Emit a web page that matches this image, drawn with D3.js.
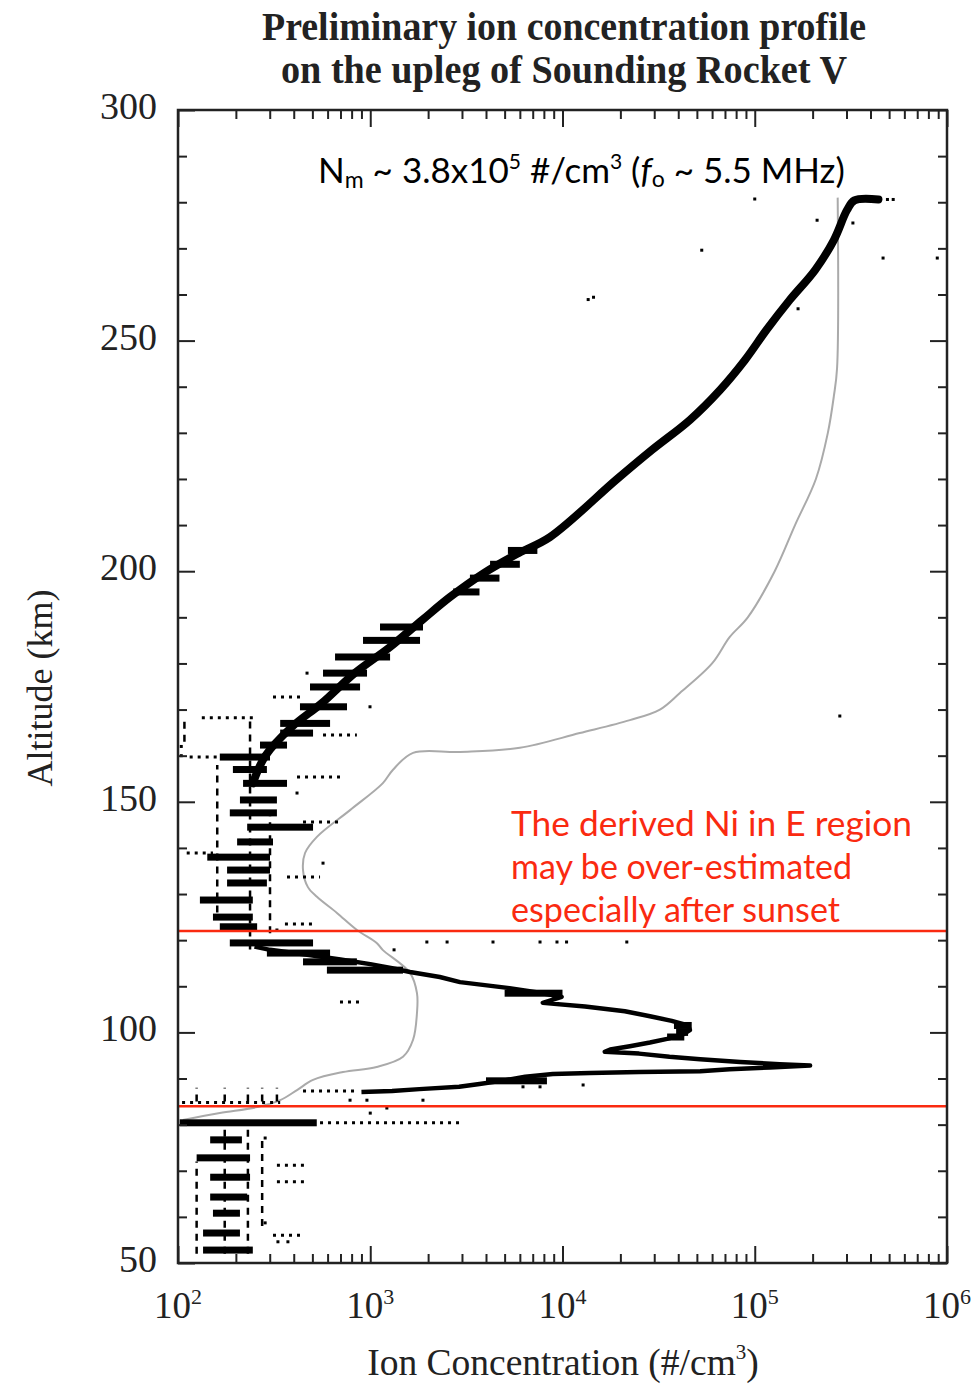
<!DOCTYPE html>
<html>
<head>
<meta charset="utf-8">
<script src="https://cdn.jsdelivr.net/npm/d3@7"></script>
<style>
  body { margin: 0; background: #fff; }
  svg { display: block; }
</style>
</head>
<body>
<div id="chart"></div>
<script>
// [altitude km, ions per cm3]
const fTrace = [
  [280.6, 4.4e5], [280.4, 3.3e5], [278.3, 3.02e5], [271.8, 2.58e5], [265.3, 2.06e5],
  [258.8, 1.52e5], [252.3, 1.15e5], [245.8, 8.9e4], [239.3, 6.6e4], [232.8, 4.6e4],
  [226.3, 2.92e4], [219.8, 1.9e4],
  [207.4, 8.6e3], [203.9, 5.9e3], [199.6, 3.9e3], [194.4, 2.6e3], [189.4, 1.86e3],
  [183.6, 1.27e3], [177.9, 830], [171.4, 560], [166.2, 390], [160.0, 285], [154.0, 245]
];

const eTrace = [
  [118.6, 250], [117.9, 301], [116.8, 480], [115.8, 700], [114.8, 1000], [113.9, 1300],
  [113.1, 1610], [112.0, 2300], [110.9, 2930], [109.6, 5300], [108.6, 7600], [107.7, 9900],
  [106.4, 7900], [105.6, 1.31e4], [104.6, 2.11e4], [103.5, 2.85e4], [102.5, 3.7e4],
  [101.5, 4.5e4], [100.5, 4.6e4], [99.5, 4.2e4], [98.6, 3.5e4], [97.8, 2.85e4],
  [97.0, 2.24e4], [96.3, 1.77e4], [95.8, 1.66e4], [95.4, 2.5e4], [94.7, 3.6e4],
  [94.2, 5.2e4], [93.6, 8.4e4], [93.1, 1.35e5], [92.8, 1.94e5], [92.4, 1.2e5],
  [92.0, 7.4e4], [91.6, 5.2e4], [91.4, 2.5e4], [91.2, 1.39e4], [91.0, 8900],
  [90.4, 6400], [89.6, 5000], [88.8, 3700], [88.2, 2900], [87.7, 1800], [87.3, 1300], [87.1, 900]
];

// smeared samples: [altitude, from, to]
const bars = [
  [204.5, 5200, 7400], [201.5, 4200, 6000], [198.5, 3300, 4700], [195.5, 2700, 3700],
  [187.9, 1124, 1881], [185.0, 917, 1815], [181.4, 656, 1268], [177.9, 568, 962],
  [174.9, 486, 885], [170.6, 431, 757], [167.0, 340, 618], [164.9, 340, 504],
  [162.3, 267, 369], [159.7, 165, 301], [157.0, 193, 290], [154.0, 218, 369],
  [150.4, 210, 327], [147.6, 186, 327], [144.5, 229, 504], [141.3, 203, 312],
  [138.0, 142, 301], [135.2, 180, 301], [132.4, 180, 290], [128.7, 130, 245],
  [125.0, 152, 245], [122.9, 165, 258],
  [119.4, 186, 504], [117.2, 290, 618], [115.3, 447, 852], [113.5, 595, 1480],
  [108.5, 5000, 1.0e4], [101.5, 3.8e4, 4.7e4], [100.0, 3.9e4, 4.5e4], [99.0, 3.5e4, 4.3e4],
  [89.5, 4000, 8300],
  [80.4, 102, 527], [76.7, 147, 215], [72.8, 125, 237], [68.6, 147, 237],
  [64.3, 147, 229], [60.8, 152, 210], [56.5, 135, 210], [52.8, 135, 245]
];

const dashedBars = [
  [168.2, 133, 258], [159.7, 115, 160], [155.4, 416, 696], [145.6, 447, 721],
  [138.9, 111, 152], [133.7, 369, 548], [164.5, 568, 852], [172.7, 312, 447],
  [123.5, 360, 528], [87.3, 447, 850], [84.8, 105, 340], [80.4, 548, 2930],
  [71.2, 327, 468], [67.6, 327, 468], [56.0, 312, 447], [106.6, 696, 885]
];

// quantisation columns: [conc, alt from, alt to]
const columns = [
  [160, 126, 158], [237, 118, 168], [301, 121.5, 148], [108, 163, 168],
  [125, 52, 72], [175, 52, 79], [231, 52, 81], [274, 58, 77],
  [125, 85, 88], [175, 85, 88], [231, 85, 88], [274, 85, 88], [327, 85, 88]
];

const dots = [
  [280.7, 1.0e5], [276.1, 2.11e5], [275.5, 3.24e5], [269.6, 5.3e4], [267.9, 4.65e5],
  [267.9, 8.9e5], [258.9, 1.36e4], [259.4, 1.45e4], [256.9, 1.68e5], [280.6, 4.9e5],
  [280.6, 5.25e5], [168.6, 2.77e5], [162, 104], [160, 104], [177.9, 469], [170.6, 997],
  [151.9, 416], [136.7, 568], [122.2, 327], [119.6, 1970], [119.6, 2510], [119.6, 4350],
  [119.6, 7640], [119.6, 9360], [119.6, 1.05e4], [119.6, 2.16e4], [117.9, 1330],
  [88.6, 1.28e4], [88.2, 7640], [88.2, 6230], [85.3, 785], [85.3, 961], [85.3, 1880],
  [82.5, 1000], [83.6, 1220], [77.1, 284], [58.7, 284], [54.6, 331], [54.6, 373]
];

// grey model profile
const model = [
  [281, 2.7e5], [244, 2.68e5], [238, 2.58e5], [230, 2.4e5], [220, 2.08e5], [210, 1.62e5],
  [200, 1.27e5], [190, 9.2e4], [185.7, 7.4e4], [180, 6.0e4], [173.6, 4.08e4], [170, 3.21e4],
  [167.7, 2.24e4], [164.9, 1.23e4], [161.7, 6.0e3], [160.8, 2.93e3], [160.6, 1.67e3],
  [156.9, 1.31e3], [154, 1.16e3], [148.2, 785], [142.4, 528], [138.9, 458], [135.2, 447],
  [131.5, 474], [129.4, 528], [125.9, 671], [122.2, 853], [119.4, 1080], [117.9, 1160],
  [112.9, 1610], [108.5, 1750], [104.2, 1750], [98.4, 1670], [94.7, 1480], [92.5, 1080],
  [91.4, 721], [89.7, 504], [87.5, 416], [85.3, 340], [83.8, 258], [82.5, 165], [81, 106]
];

const redLines = [122, 84];
const yMajorTicks = [50, 100, 150, 200, 250, 300];
const yMinorTicks = [60, 70, 80, 90, 110, 120, 130, 140, 160, 170, 180, 190, 210, 220, 230, 240, 260, 270, 280, 290];
const xMajorTicks = [1e2, 1e3, 1e4, 1e5, 1e6];
const xTickExps = ['2', '3', '4', '5', '6'];
const titleLines = ['Preliminary ion concentration profile', 'on the upleg of Sounding Rocket V'];
const noteLines = ['The derived Ni in E region', 'may be over-estimated', 'especially after sunset'];

const width = 973;
const height = 1384;
const plot = { left: 178, right: 947, top: 110, bottom: 1263 };
const ink = '#222';
const red = '#fa2a10';
const serif = '"Liberation Serif", "Times New Roman", serif';
const sans = 'Lato, "Open Sans", sans-serif';

const svg = d3.select('#chart').append('svg')
  .attr('width', width)
  .attr('height', height);

const x = d3.scaleLog().domain([1e2, 1e6]).range([plot.left, plot.right]);
const y = d3.scaleLinear().domain([50, 300]).range([plot.bottom, plot.top]);

const line = d3.line().x((d) => x(d[1])).y((d) => y(d[0]));
const smooth = d3.line().x((d) => x(d[1])).y((d) => y(d[0])).curve(d3.curveCatmullRom.alpha(0.5));

// model curve
svg.append('path')
  .datum(model)
  .attr('d', smooth)
  .attr('fill', 'none')
  .attr('stroke', '#aaa')
  .attr('stroke-width', 2);

// measured data
const data = svg.append('g').attr('fill', '#000');

data.selectAll('rect.bar')
  .data(bars)
  .join('rect')
  .attr('class', 'bar')
  .attr('x', (d) => x(d[1]))
  .attr('width', (d) => x(d[2]) - x(d[1]))
  .attr('y', (d) => y(d[0]) - 3.5)
  .attr('height', 7);

data.selectAll('line.dbar')
  .data(dashedBars)
  .join('line')
  .attr('class', 'dbar')
  .attr('x1', (d) => x(d[1]))
  .attr('x2', (d) => x(d[2]))
  .attr('y1', (d) => y(d[0]))
  .attr('y2', (d) => y(d[0]))
  .attr('stroke', '#000')
  .attr('stroke-width', 3)
  .attr('stroke-dasharray', '3 5');

data.selectAll('line.col')
  .data(columns)
  .join('line')
  .attr('class', 'col')
  .attr('x1', (d) => x(d[0]))
  .attr('x2', (d) => x(d[0]))
  .attr('y1', (d) => y(d[1]))
  .attr('y2', (d) => y(d[2]))
  .attr('stroke', '#000')
  .attr('stroke-width', 2.5)
  .attr('stroke-dasharray', '7 6');

data.selectAll('rect.dot')
  .data(dots)
  .join('rect')
  .attr('class', 'dot')
  .attr('x', (d) => x(d[1]) - 1.5)
  .attr('y', (d) => y(d[0]) - 1.5)
  .attr('width', 3)
  .attr('height', 3);

svg.append('path')
  .datum(fTrace)
  .attr('d', smooth)
  .attr('fill', 'none')
  .attr('stroke', '#000')
  .attr('stroke-width', 8)
  .attr('stroke-linejoin', 'round')
  .attr('stroke-linecap', 'round');

svg.append('path')
  .datum(eTrace)
  .attr('d', line)
  .attr('fill', 'none')
  .attr('stroke', '#000')
  .attr('stroke-width', 4.5)
  .attr('stroke-linejoin', 'round');

// red marker lines
svg.selectAll('line.red')
  .data(redLines)
  .join('line')
  .attr('class', 'red')
  .attr('x1', plot.left - 1)
  .attr('x2', plot.right)
  .attr('y1', (d) => y(d))
  .attr('y2', (d) => y(d))
  .attr('stroke', red)
  .attr('stroke-width', 2.4);

// axes, ticks pointing inward
function styleAxis(g) {
  g.select('.domain').remove();
  g.selectAll('.tick line').attr('stroke', ink).attr('stroke-width', 2);
}

const xMinor = x.ticks().filter((t) => !xMajorTicks.includes(t));

svg.append('g').attr('transform', `translate(0,${plot.bottom})`)
  .call(d3.axisBottom(x).tickValues(xMinor).tickSize(-9).tickFormat(''))
  .call(styleAxis);
svg.append('g').attr('transform', `translate(0,${plot.bottom})`)
  .call(d3.axisBottom(x).tickValues(xMajorTicks).tickSize(-17).tickFormat(''))
  .call(styleAxis);
svg.append('g').attr('transform', `translate(0,${plot.top})`)
  .call(d3.axisTop(x).tickValues(xMinor).tickSize(-9).tickFormat(''))
  .call(styleAxis);
svg.append('g').attr('transform', `translate(0,${plot.top})`)
  .call(d3.axisTop(x).tickValues(xMajorTicks).tickSize(-17).tickFormat(''))
  .call(styleAxis);

svg.append('g').attr('transform', `translate(${plot.left},0)`)
  .call(d3.axisLeft(y).tickValues(yMinorTicks).tickSize(-9).tickFormat(''))
  .call(styleAxis);
svg.append('g').attr('transform', `translate(${plot.left},0)`)
  .call(d3.axisLeft(y).tickValues(yMajorTicks).tickSize(-17).tickFormat(''))
  .call(styleAxis);
svg.append('g').attr('transform', `translate(${plot.right},0)`)
  .call(d3.axisRight(y).tickValues(yMinorTicks).tickSize(-9).tickFormat(''))
  .call(styleAxis);
svg.append('g').attr('transform', `translate(${plot.right},0)`)
  .call(d3.axisRight(y).tickValues(yMajorTicks).tickSize(-17).tickFormat(''))
  .call(styleAxis);

svg.append('rect')
  .attr('x', plot.left)
  .attr('y', plot.top)
  .attr('width', plot.right - plot.left)
  .attr('height', plot.bottom - plot.top)
  .attr('fill', 'none')
  .attr('stroke', ink)
  .attr('stroke-width', 2.5);

// tick labels
svg.append('g')
  .selectAll('text')
  .data(yMajorTicks)
  .join('text')
  .attr('x', plot.left - 21)
  .attr('y', (d) => y(d) + 9)
  .attr('text-anchor', 'end')
  .attr('font-family', serif)
  .attr('font-size', 38)
  .attr('fill', ink)
  .text((d) => d);

const xLabels = svg.append('g')
  .selectAll('text')
  .data(xMajorTicks)
  .join('text')
  .attr('x', (d) => x(d))
  .attr('y', plot.bottom + 55)
  .attr('text-anchor', 'middle')
  .attr('font-family', serif)
  .attr('font-size', 37)
  .attr('fill', ink);
xLabels.append('tspan').text('10');
xLabels.append('tspan')
  .attr('font-size', 22)
  .attr('dy', -14)
  .text((d, i) => xTickExps[i]);

// axis titles
const xTitle = svg.append('text')
  .attr('x', 563)
  .attr('y', 1375)
  .attr('text-anchor', 'middle')
  .attr('font-family', serif)
  .attr('font-size', 37.5)
  .attr('fill', ink);
xTitle.append('tspan').text('Ion Concentration (#/cm');
xTitle.append('tspan').attr('font-size', 21).attr('dy', -16).text('3');
xTitle.append('tspan').attr('dy', 16).text(')');

svg.append('text')
  .attr('transform', 'translate(52,688) rotate(-90)')
  .attr('text-anchor', 'middle')
  .attr('font-family', serif)
  .attr('font-size', 36)
  .attr('fill', ink)
  .text('Altitude (km)');

// title
svg.append('g')
  .selectAll('text')
  .data(titleLines)
  .join('text')
  .attr('x', 564)
  .attr('y', (d, i) => 40 + i * 43)
  .attr('text-anchor', 'middle')
  .attr('font-family', serif)
  .attr('font-weight', 'bold')
  .attr('font-size', 39)
  .attr('textLength', (d, i) => (i === 0 ? 604 : 566))
  .attr('lengthAdjust', 'spacingAndGlyphs')
  .attr('fill', ink)
  .text((d) => d);

// peak density note
const note = svg.append('text')
  .attr('x', 318)
  .attr('y', 183)
  .attr('font-family', sans)
  .attr('font-size', 35)
  .attr('fill', '#000');
note.append('tspan').text('N');
note.append('tspan').attr('font-size', 23).attr('dy', 5).text('m');
note.append('tspan').attr('dy', -5).text(' ~ 3.8x10');
note.append('tspan').attr('font-size', 21).attr('dy', -14).text('5');
note.append('tspan').attr('dy', 14).text(' #/cm');
note.append('tspan').attr('font-size', 21).attr('dy', -14).text('3');
note.append('tspan').attr('dy', 14).text(' (');
note.append('tspan').attr('font-style', 'italic').text('f');
note.append('tspan').attr('font-size', 23).attr('dy', 4).text('o');
note.append('tspan').attr('dy', -4).text(' ~ 5.5 MHz)');

// red caveat
svg.append('g')
  .selectAll('text')
  .data(noteLines)
  .join('text')
  .attr('x', 511)
  .attr('y', (d, i) => 836 + i * 43)
  .attr('font-family', sans)
  .attr('font-size', 35)
  .attr('textLength', (d, i) => [401, 341, 329][i])
  .attr('lengthAdjust', 'spacingAndGlyphs')
  .attr('fill', red)
  .text((d) => d);
</script>
</body>
</html>
